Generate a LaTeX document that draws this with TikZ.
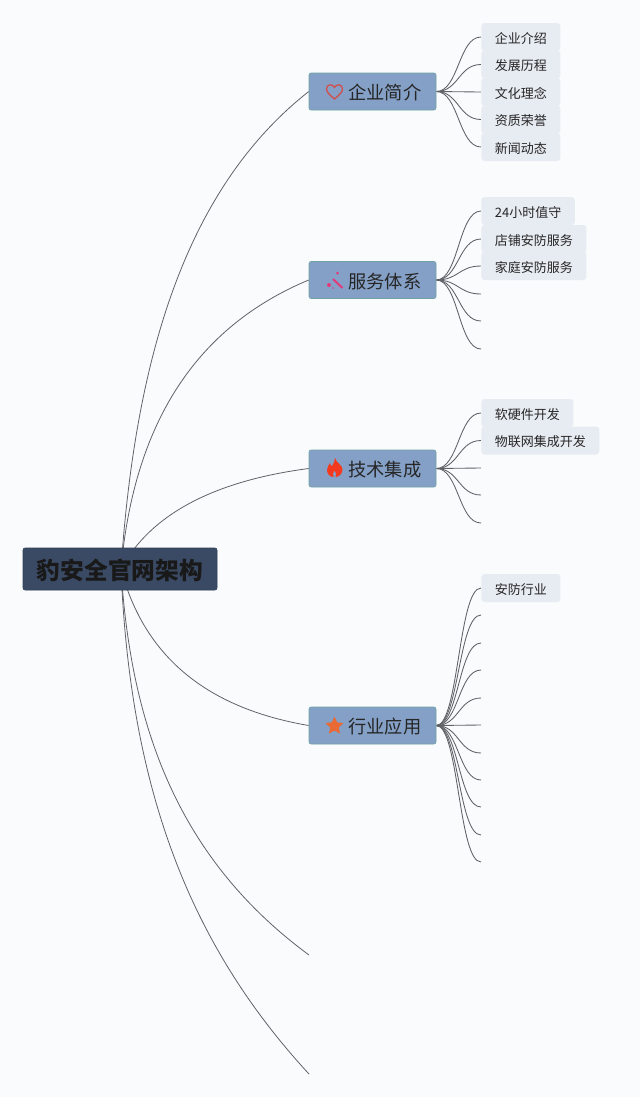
\documentclass[tikz,border=0pt]{standalone}
\usepackage{fontspec}
\setmainfont{Noto Sans CJK SC}
\usetikzlibrary{shapes.geometric, backgrounds}
\definecolor{pagebg}{HTML}{FAFBFD}
\definecolor{rootfill}{HTML}{3A4A64}
\definecolor{branchfill}{HTML}{84A0C6}
\definecolor{branchline}{HTML}{6FA3A3}
\definecolor{leaffill}{HTML}{E7EBF2}
\definecolor{linkgray}{HTML}{5F6368}
\definecolor{heartred}{HTML}{D0504F}
\definecolor{wandpink}{HTML}{E23A7A}
\definecolor{flamered}{HTML}{F43A1E}
\definecolor{starorange}{HTML}{E96A35}

\begin{document}
\begin{tikzpicture}[x=0.75pt, y=-0.75pt,
  root/.style = {draw=rootfill!85!black, fill=rootfill, rounded corners=1.5pt, minimum width=145.5pt, minimum height=31.5pt, inner sep=0pt, text height=17.9pt, text depth=2.1pt, font=\fontsize{17.8}{20}\selectfont\bfseries, text=black!90},
  branch/.style = {draw=branchline, fill=branchfill, rounded corners=1.5pt, minimum width=95.25pt, minimum height=27.75pt, inner sep=0pt, text height=14.3pt, text depth=1.7pt, font=\fontsize{13.7}{16}\selectfont, text=black!85},
  leaf/.style = {fill=leaffill, rounded corners=2.5pt, anchor=west, minimum height=21pt, inner xsep=10.2pt, inner ysep=0pt, text height=10.2pt, text depth=1.2pt, font=\fontsize{9.75}{12}\selectfont, text=black!85},
  link/.style = {draw=linkgray, line width=0.65pt},
  stem/.style = {draw=linkgray, line width=0.6pt}]

\useasboundingbox (0,0) rectangle (640,1097);

\node[root] (r) at (120,569) {豹安全官网架构};

\node[branch] (b1) at (372.5,91.5) {\hspace*{18.6pt}企业简介};
\node[branch] (b2) at (372.5,280) {\hspace*{18.6pt}服务体系};
\node[branch] (b3) at (372.5,468.5) {\hspace*{18.6pt}技术集成};
\node[branch] (b4) at (372.5,725.5) {\hspace*{18.6pt}行业应用};
\coordinate (b5) at (309,955);
\coordinate (b6) at (309,1074);
\coordinate (hub) at (121,569);

% icons
\draw[draw=heartred, line width=1pt] (334.5,99) .. controls (329,94.5) and (326.5,91.5) .. (326.5,89) .. controls (326.5,84) and (333,83.5) .. (334.5,87.5) .. controls (336,83.5) and (342.5,84) .. (342.5,89) .. controls (342.5,91.5) and (340,94.5) .. (334.5,99) -- cycle;
\draw[draw=wandpink, line width=1.5pt] (333,279) -- (342.5,288);
\fill[wandpink] (329,285) circle (2) (337.5,273) circle (1.5) (333,288) circle (0.8);
\fill[flamered] (335,458) .. controls (336,463) and (343,465) .. (342.5,470) .. controls (342,474) and (339,477) .. (335.5,477) .. controls (337,474.5) and (336,472) .. (334.5,470.5) .. controls (333.5,472) and (332,474.5) .. (333.5,477) .. controls (329.5,477) and (327,473.5) .. (327,470) .. controls (327,467) and (329,465) .. (330,463) .. controls (330.5,465) and (331,466) .. (332,466) .. controls (333.5,464) and (335,461) .. (335,458) -- cycle;
\node[star, star points=5, star point ratio=2.2, fill=starorange, inner sep=0pt, minimum size=14.5pt, rounded corners=0.6pt] (s4) at (334.5,726) {};

% first group
\node[leaf] (l11) at (481,37) {企业介绍};
\node[leaf] (l12) at (481,64.5) {发展历程};
\node[leaf] (l13) at (481,92) {文化理念};
\node[leaf] (l14) at (481,119.5) {资质荣誉};
\node[leaf] (l15) at (481,147) {新闻动态};

% second group
\node[leaf] (l21) at (481,211) {24小时值守};
\node[leaf] (l22) at (481,239) {店铺安防服务};
\node[leaf] (l23) at (481,266) {家庭安防服务};
\coordinate (l24) at (481,294);
\coordinate (l25) at (481,321);
\coordinate (l26) at (481,349);

% third group
\node[leaf] (l31) at (481,413) {软硬件开发};
\node[leaf] (l32) at (481,440.5) {物联网集成开发};
\coordinate (l33) at (481,468);
\coordinate (l34) at (481,495);
\coordinate (l35) at (481,523);

% fourth group
\node[leaf] (l41) at (481,588) {安防行业};
\coordinate (l42) at (481,615);
\coordinate (l43) at (481,643);
\coordinate (l44) at (481,670);
\coordinate (l45) at (481,698);
\coordinate (l46) at (481,725);
\coordinate (l47) at (481,753);
\coordinate (l48) at (481,780);
\coordinate (l49) at (481,807);
\coordinate (l410) at (481,835);
\coordinate (l411) at (481,862);

\begin{scope}[on background layer]
\fill[pagebg] (0,0) rectangle (640,1097);
\path[stem] (hub) .. controls (136,347) and (190,185) .. (b1.west);
\path[stem] (hub) .. controls (134,423) and (196,327) .. (b2.west);
\path[stem] (hub) .. controls (150,515) and (213,481) .. (b3.west);
\path[stem] (hub) .. controls (144,656) and (206,708) .. (b4.west);
\path[stem] (hub) .. controls (131,730) and (180,860) .. (b5);
\path[stem] (hub) .. controls (130,790) and (190,945) .. (b6);

\draw[link] (b1.east) .. controls +(22.5,0) and +(-22.5,0) .. (l11.west);
\draw[link] (b1.east) .. controls +(22.5,0) and +(-22.5,0) .. (l12.west);
\draw[link] (b1.east) .. controls +(22.5,0) and +(-22.5,0) .. (l13.west);
\draw[link] (b1.east) .. controls +(22.5,0) and +(-22.5,0) .. (l14.west);
\draw[link] (b1.east) .. controls +(22.5,0) and +(-22.5,0) .. (l15.west);

\draw[link] (b2.east) .. controls +(22.5,0) and +(-22.5,0) .. (l21.west);
\draw[link] (b2.east) .. controls +(22.5,0) and +(-22.5,0) .. (l22.west);
\draw[link] (b2.east) .. controls +(22.5,0) and +(-22.5,0) .. (l23.west);
\draw[link] (b2.east) .. controls +(22.5,0) and +(-22.5,0) .. (l24);
\draw[link] (b2.east) .. controls +(22.5,0) and +(-22.5,0) .. (l25);
\draw[link] (b2.east) .. controls +(22.5,0) and +(-22.5,0) .. (l26);

\draw[link] (b3.east) .. controls +(22.5,0) and +(-22.5,0) .. (l31.west);
\draw[link] (b3.east) .. controls +(22.5,0) and +(-22.5,0) .. (l32.west);
\draw[link] (b3.east) .. controls +(22.5,0) and +(-22.5,0) .. (l33);
\draw[link] (b3.east) .. controls +(22.5,0) and +(-22.5,0) .. (l34);
\draw[link] (b3.east) .. controls +(22.5,0) and +(-22.5,0) .. (l35);

\draw[link] (b4.east) .. controls +(22.5,0) and +(-22.5,0) .. (l41.west);
\draw[link] (b4.east) .. controls +(22.5,0) and +(-22.5,0) .. (l42);
\draw[link] (b4.east) .. controls +(22.5,0) and +(-22.5,0) .. (l43);
\draw[link] (b4.east) .. controls +(22.5,0) and +(-22.5,0) .. (l44);
\draw[link] (b4.east) .. controls +(22.5,0) and +(-22.5,0) .. (l45);
\draw[link] (b4.east) .. controls +(22.5,0) and +(-22.5,0) .. (l46);
\draw[link] (b4.east) .. controls +(22.5,0) and +(-22.5,0) .. (l47);
\draw[link] (b4.east) .. controls +(22.5,0) and +(-22.5,0) .. (l48);
\draw[link] (b4.east) .. controls +(22.5,0) and +(-22.5,0) .. (l49);
\draw[link] (b4.east) .. controls +(22.5,0) and +(-22.5,0) .. (l410);
\draw[link] (b4.east) .. controls +(22.5,0) and +(-22.5,0) .. (l411);
\end{scope}
\end{tikzpicture}
\end{document}
